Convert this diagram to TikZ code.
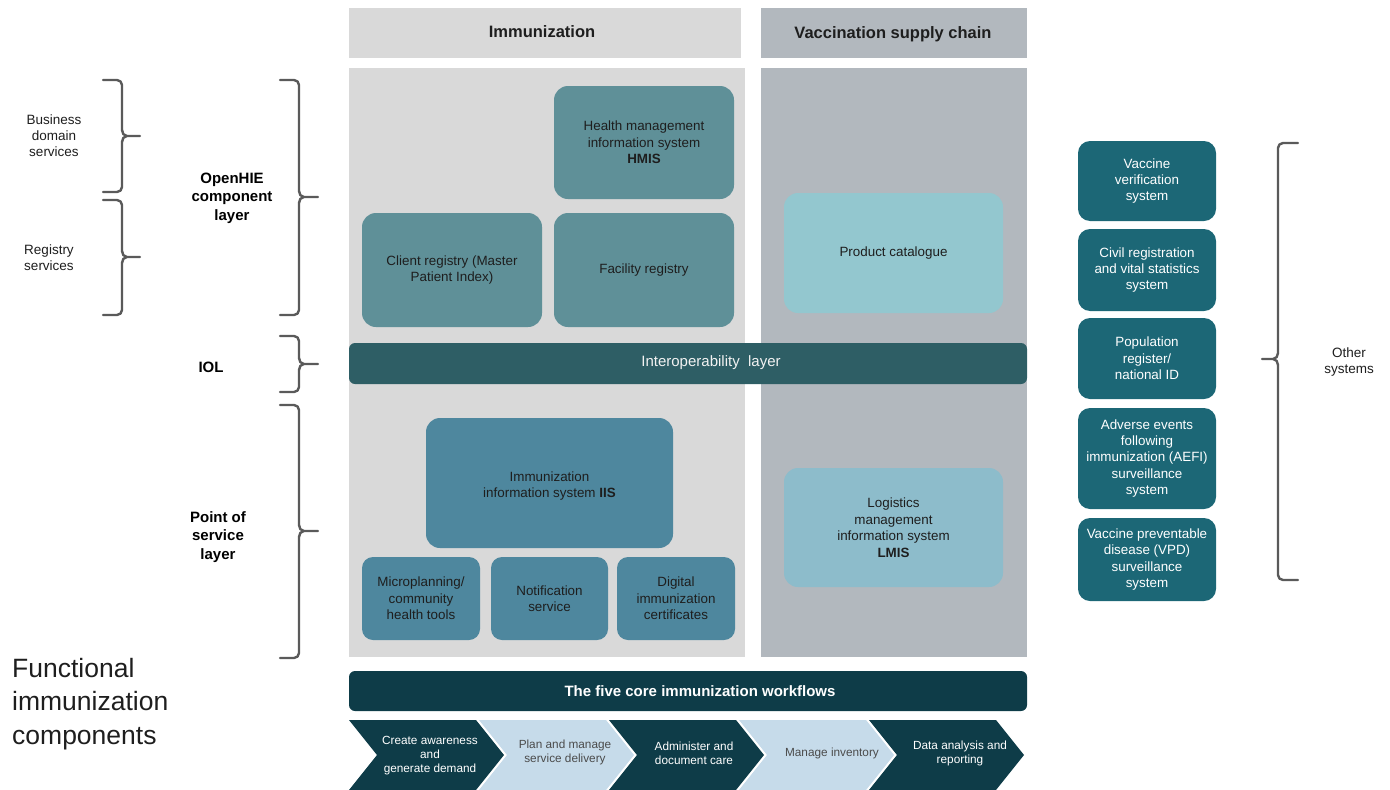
\documentclass[tikz,border=0pt]{standalone}
\usepackage{fontspec}
\setmainfont{Liberation Sans}
\definecolor{panelA}{HTML}{D9D9D9}
\definecolor{panelB}{HTML}{B2B8BE}
\definecolor{tealA}{HTML}{5F9098}
\definecolor{tealIOL}{HTML}{2E5E65}
\definecolor{steel}{HTML}{4E879E}
\definecolor{aquaA}{HTML}{93C7CF}
\definecolor{aquaB}{HTML}{8DBCCB}
\definecolor{other}{HTML}{1C6776}
\definecolor{darkbar}{HTML}{0E3C48}
\definecolor{lightchev}{HTML}{C6DBEA}
\definecolor{bracec}{HTML}{5A5A5A}
\definecolor{txtdark}{HTML}{1E1E1E}
\tikzset{
  hdr/.style={fill=#1, inner sep=0pt, font=\fontsize{16.5}{19}\bfseries\selectfont, text=txtdark},
  panel/.style={fill=#1, inner sep=0pt},
  cbox/.style={fill=#1, rounded corners=14pt, inner sep=0pt, align=center, text=txtdark,
    font=\fontsize{13.4}{16.5}\selectfont},
  obox/.style={fill=other, rounded corners=12pt, inner sep=0pt, align=center, text=white,
    font=\fontsize{13.4}{16.3}\selectfont, minimum width=138pt},
  lbl/.style={align=center, inner sep=0pt, text=txtdark, font=\fontsize{13.5}{16}\selectfont},
  blbl/.style={align=center, inner sep=0pt, text=black, font=\fontsize{15}{18.5}\bfseries\selectfont},
  brc/.style={draw=bracec, line width=2.4pt, line cap=round, line join=round},
  chevtxt/.style={align=center, inner sep=0pt, font=\fontsize{11.8}{14}\selectfont},
}
\begin{document}
\begin{tikzpicture}[x=1pt,y=-1pt]
\useasboundingbox (0,0) rectangle (1390,790);

% headers
\node[hdr=panelA, minimum width=392pt, minimum height=50pt] (hImm) at (545,33) {\phantom{Immunization}};
\node[text=txtdark, inner sep=0pt, font=\fontsize{16.5}{19}\bfseries\selectfont] (tImm) at (542,32) {Immunization};
\node[hdr=panelB, minimum width=266pt, minimum height=50pt] (hVsc) at (894,33) {\phantom{Vaccination}};
\node[text=txtdark, inner sep=0pt, font=\fontsize{16.5}{19}\bfseries\selectfont] (tVsc) at (893,34) {Vaccination supply chain};

% panels
\node[panel=panelA, minimum width=396pt, minimum height=589pt] (pImm) at (547,362.5) {};
\node[panel=panelB, minimum width=266pt, minimum height=589pt] (pVsc) at (894,362.5) {};

% OpenHIE component boxes
\node[cbox=tealA, minimum width=180pt, minimum height=113pt] (hmis) at (644,142.5)
  {Health management\\information system\\\textbf{HMIS}};
\node[cbox=tealA, minimum width=180pt, minimum height=114pt] (client) at (452,270)
  {Client registry (Master\\Patient Index)};
\node[cbox=tealA, minimum width=180pt, minimum height=114pt] (facility) at (644,270)
  {Facility registry};
\node[cbox=aquaA, minimum width=219pt, minimum height=120pt] (prod) at (893.5,253)
  {Product catalogue};

% interoperability layer
\node[fill=tealIOL, rounded corners=6pt, minimum width=678pt, minimum height=41pt, inner sep=0pt] (iol) at (688,363.5) {};
\node[text=white!90!gray, inner sep=0pt, font=\fontsize{15}{18}\selectfont] (tiol) at (711,363) {Interoperability\ \ layer};

% point of service boxes
\node[cbox=steel, minimum width=247pt, minimum height=130pt] (iis) at (549.5,483) {};
\node[align=center, inner sep=0pt, text=txtdark, font=\fontsize{13.4}{16.5}\selectfont] (tiis) at (549.5,486)
  {Immunization\\information system \textbf{IIS}};
\node[cbox=steel, rounded corners=11pt, minimum width=118pt, minimum height=83pt] (micro) at (421,598.5)
  {Microplanning/\\community\\health tools};
\node[cbox=steel, rounded corners=11pt, minimum width=117pt, minimum height=83pt] (notif) at (549.5,598.5)
  {Notification\\service};
\node[cbox=steel, rounded corners=11pt, minimum width=118pt, minimum height=83pt] (digital) at (676,598.5)
  {Digital\\immunization\\certificates};
\node[cbox=aquaB, minimum width=219pt, minimum height=119pt] (lmis) at (893.5,527.5)
  {Logistics\\management\\information system\\\textbf{LMIS}};

% five core workflows bar
\node[fill=darkbar, rounded corners=6pt, minimum width=678pt, minimum height=40pt, inner sep=0pt] (core) at (688,691) {};
\node[text=white, inner sep=0pt, font=\fontsize{15}{18}\bfseries\selectfont] (tcore) at (700,691)
  {The five core immunization workflows};

% chevrons
\foreach \i/\col in {0/darkbar,1/lightchev,2/darkbar,3/lightchev,4/darkbar}{
  \pgfmathsetmacro{\xo}{349+130*\i}
  \fill[\col] (\xo,720) -- (\xo+127,720) -- (\xo+155,755) -- (\xo+127,790) -- (\xo,790) -- (\xo+28,755) -- cycle;
}
\node[chevtxt, text=white] (w1) at (430,756) {Create awareness\\and\\generate demand};
\node[chevtxt, text=txtdark!80] (w2) at (565,752) {Plan and manage\\service delivery};
\node[chevtxt, text=white] (w3) at (694,753) {Administer and\\document care};
\node[chevtxt, text=txtdark!80] (w4) at (832,753) {Manage inventory};
\node[chevtxt, text=white] (w5) at (960,753) {Data analysis and\\reporting};

% other systems
\node[obox, minimum height=80pt] (vvs) at (1147,181) {Vaccine\\verification\\system};
\node[obox, minimum height=82pt] (crvs) at (1147,270) {Civil registration\\and vital statistics\\system};
\node[obox, minimum height=81pt] (pop) at (1147,358.5) {Population\\register/\\national ID};
\node[obox, minimum height=101pt] (aefi) at (1147,458.5) {Adverse events\\following\\immunization (AEFI)\\surveillance\\system};
\node[obox, minimum height=83pt] (vpd) at (1147,559.5) {Vaccine preventable\\disease (VPD)\\surveillance\\system};

% left braces
\draw[brc] (103,80) -- (117,80) to[out=0,in=90] (122,85) -- (122,130) to[out=-90,in=180] (127,136) -- (140,136)
  (127,136) to[out=180,in=90] (122,142) -- (122,187) to[out=-90,in=0] (117,192) -- (103,192);
\draw[brc] (103,200) -- (117,200) to[out=0,in=90] (122,205) -- (122,251) to[out=-90,in=180] (127,257) -- (140,257)
  (127,257) to[out=180,in=90] (122,263) -- (122,310) to[out=-90,in=0] (117,315) -- (103,315);
\draw[brc] (280,80) -- (294,80) to[out=0,in=90] (299,85) -- (299,191) to[out=-90,in=180] (304,197) -- (318,197)
  (304,197) to[out=180,in=90] (299,203) -- (299,310) to[out=-90,in=0] (294,315) -- (280,315);
\draw[brc] (280,336) -- (294,336) to[out=0,in=90] (299,341) -- (299,358) to[out=-90,in=180] (304,364) -- (318,364)
  (304,364) to[out=180,in=90] (299,370) -- (299,387) to[out=-90,in=0] (294,392) -- (280,392);
\draw[brc] (280,405) -- (294,405) to[out=0,in=90] (299,410) -- (299,525) to[out=-90,in=180] (304,531) -- (318,531)
  (304,531) to[out=180,in=90] (299,537) -- (299,653) to[out=-90,in=0] (294,658) -- (280,658);
% right brace
\draw[brc] (1298,143) -- (1283,143) to[out=180,in=90] (1278,148) -- (1278,353) to[out=-90,in=0] (1273,359) -- (1262,359)
  (1273,359) to[out=0,in=90] (1278,365) -- (1278,575) to[out=-90,in=180] (1283,580) -- (1298,580);

% labels
\node[lbl] (lbd) at (54,136) {Business\\domain\\services};
\node[lbl] (lrs) at (49,258) {Registry\\services};
\node[blbl] (lohie) at (232,198) {OpenHIE\\component\\layer};
\node[blbl] (liol) at (211,367) {IOL};
\node[blbl] (lpos) at (218,537) {Point of\\service\\layer};
\node[lbl] (loth) at (1349,362) {Other\\systems};
\node[anchor=west, align=left, inner sep=0pt, text=txtdark, font=\fontsize{26.5}{33.5}\selectfont] (lfic) at (12,704)
  {Functional\\immunization\\components};
\end{tikzpicture}
\end{document}
